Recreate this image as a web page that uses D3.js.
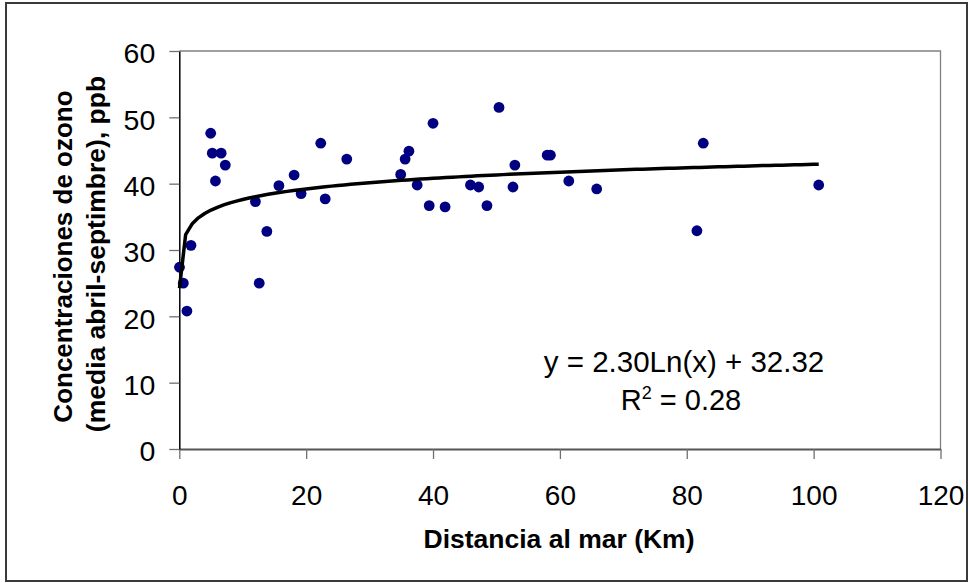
<!DOCTYPE html>
<html>
<head>
<meta charset="utf-8">
<script src="https://cdn.jsdelivr.net/npm/d3@7/dist/d3.min.js"></script>
<style>
  html, body { margin: 0; padding: 0; background: #fff; }
  svg { display: block; font-family: "Liberation Sans", Arial, sans-serif; }
</style>
</head>
<body>
<svg id="chart" width="969" height="583"></svg>
<script>
// Distance to the sea (km) for each monitoring station
const distancias = [
  0.03, 0.63, 1.2, 1.84, 4.95, 5.2, 6.6, 7.25, 5.7,
  12.0, 12.6, 13.8, 15.7, 18.1, 19.2, 22.3, 23.0, 26.4,
  34.9, 35.6, 36.2, 37.5, 39.4, 40.0, 41.9, 45.9, 47.2,
  48.5, 50.4, 52.6, 52.9, 58.0, 58.5, 61.4, 65.8, 81.6,
  82.6, 100.8
];
// Mean ozone concentration April-September (ppb)
const ozono = [
  27.4, 25.0, 20.8, 30.7, 47.6, 44.6, 44.6, 42.8, 40.4,
  37.3, 25.0, 32.8, 39.7, 41.3, 38.5, 46.1, 37.7, 43.7,
  41.4, 43.7, 44.9, 39.8, 36.7, 49.1, 36.5, 39.8, 39.5,
  36.7, 51.5, 39.5, 42.8, 44.3, 44.3, 40.4, 39.2, 32.9,
  46.1, 39.8
];
const xTicks = [0, 20, 40, 60, 80, 100, 120];
const yTicks = [0, 10, 20, 30, 40, 50, 60];

// Logarithmic trend: y = 2.30 ln(x) + 32.32
const coefA = 2.30, coefB = 32.32, r2 = 0.28;

const svg = d3.select("#chart");
const W = 969, H = 583;

svg.append("rect").attr("x", 0).attr("y", 0).attr("width", W).attr("height", H).attr("fill", "#fff");
// chart border
svg.append("rect").attr("x", 6).attr("y", 3).attr("width", 961).attr("height", 578)
  .attr("fill", "none").attr("stroke", "#3a3a3a").attr("stroke-width", 2);

const x = d3.scaleLinear().domain([0, 120]).range([179.3, 940.5]);
const y = d3.scaleLinear().domain([0, 60]).range([449, 51]);

// plot area frame (top and right)
svg.append("path")
  .attr("d", `M${x(0)},${y(60)}H${x(120)}V${y(0)}`)
  .attr("fill", "none").attr("stroke", "#808080").attr("stroke-width", 1.3);

// x axis
const gx = svg.append("g").attr("transform", `translate(0,${y(0)})`)
  .call(d3.axisBottom(x).tickValues(xTicks).tickSize(10).tickSizeOuter(0).tickPadding(26));
gx.select(".domain").attr("stroke", "#555").attr("stroke-width", 2);
gx.selectAll(".tick line").attr("stroke", "#707070").attr("stroke-width", 1.3);
gx.selectAll(".tick text").attr("font-size", 28).attr("fill", "#000")
  .attr("font-family", "Liberation Sans, Arial, sans-serif");

// y axis
const gy = svg.append("g").attr("transform", `translate(${x(0)},0)`)
  .call(d3.axisLeft(y).tickValues(yTicks).tickSize(10).tickSizeOuter(0).tickPadding(14));
gy.select(".domain").attr("stroke", "#000").attr("stroke-width", 1.5);
gy.selectAll(".tick line").attr("stroke", "#707070").attr("stroke-width", 1.3);
gy.selectAll(".tick text").attr("font-size", 28.5).attr("fill", "#000").attr("dy", "0.41em")
  .attr("font-family", "Liberation Sans, Arial, sans-serif");

// data points
const pts = distancias.map((d, i) => ({ d, o: ozono[i] }));
svg.append("g").selectAll("circle").data(pts).join("circle")
  .attr("cx", p => x(p.d)).attr("cy", p => y(p.o)).attr("r", 5.4)
  .attr("fill", "#000080");

// trend line across the range of the data
const xMin = d3.min(distancias), xMax = d3.max(distancias);
const trendX = [xMin].concat(d3.range(1, Math.floor(xMax) + 1)).concat([xMax]);
const trend = trendX.map(v => ({ d: v, o: coefA * Math.log(v) + coefB }));
svg.append("path").datum(trend)
  .attr("fill", "none").attr("stroke", "#000").attr("stroke-width", 3.5)
  .attr("stroke-linejoin", "round")
  .attr("d", d3.line().x(p => x(p.d)).y(p => y(p.o)));

// equation and R²
svg.append("text").attr("x", 684).attr("y", 372).attr("text-anchor", "middle")
  .attr("font-size", 29.5).attr("fill", "#000")
  .text(`y = ${coefA.toFixed(2)}Ln(x) + ${coefB.toFixed(2)}`);
const r2t = svg.append("text").attr("x", 681).attr("y", 410).attr("text-anchor", "middle")
  .attr("font-size", 29).attr("fill", "#000");
r2t.append("tspan").text("R");
r2t.append("tspan").attr("font-size", 18).attr("dy", -11).text("2");
r2t.append("tspan").attr("dy", 11).text(` = ${r2.toFixed(2)}`);

// axis titles
svg.append("text").attr("x", 559).attr("y", 548).attr("text-anchor", "middle")
  .attr("font-size", 26.5).attr("font-weight", "bold").attr("fill", "#000")
  .text("Distancia al mar (Km)");

const yt = svg.append("g");
yt.append("text").attr("transform", "translate(72,256.5) rotate(-90)")
  .attr("text-anchor", "middle").attr("font-size", 26).attr("font-weight", "bold").attr("fill", "#000")
  .text("Concentraciones de ozono");
yt.append("text").attr("transform", "translate(105,254) rotate(-90)")
  .attr("text-anchor", "middle").attr("font-size", 26.5).attr("font-weight", "bold").attr("fill", "#000")
  .text("(media abril-septimbre), ppb");
</script>
</body>
</html>
